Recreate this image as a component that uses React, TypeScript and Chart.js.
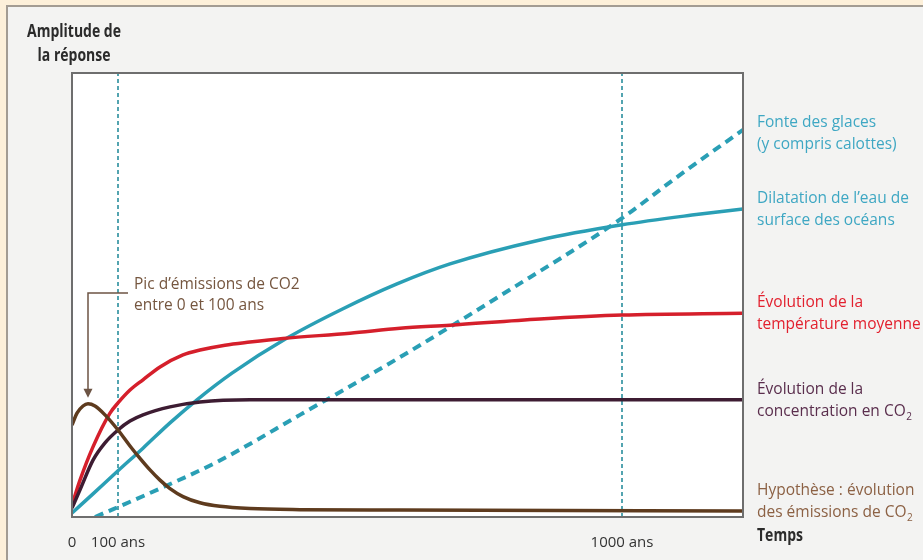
import React, { useEffect, useRef } from "react";
import { Chart, registerables } from "chart.js";

Chart.register(...registerables);

// ---- Data (schematic time units on x, response amplitude 0-100 on y) ----
const tickTimes = [0, 46, 550];
const tickLabels = ["0", "100 ans", "1000 ans"];
const markerTimes = [46, 550];

const emissionsT = [0, 5, 11, 16, 23, 33, 46, 58, 68, 78, 88, 98, 111, 128, 148, 178, 228, 328, 671];
const emissionsV = [20.7, 23.4, 25.0, 25.5, 25.0, 23.0, 19.6, 16.0, 13.2, 10.6, 8.3, 6.4, 4.6, 3.2, 2.4, 1.9, 1.65, 1.55, 1.35];

const concentrationT = [0, 8, 21, 33, 46, 58, 71, 98, 128, 178, 671];
const concentrationV = [2.0, 6.1, 12.8, 16.7, 19.6, 21.6, 23.0, 24.8, 25.9, 26.4, 26.4];

const temperatureT = [0, 8, 21, 38, 46, 58, 71, 88, 111, 128, 153, 178, 211, 278, 328, 378, 468, 550, 671];
const temperatureV = [2.7, 8.3, 15.8, 23.4, 25.7, 28.6, 30.9, 33.8, 36.5, 37.6, 38.7, 39.4, 40.2, 41.4, 42.5, 43.2, 44.6, 45.5, 45.9];

const dilatationT = [0, 21, 46, 71, 98, 125, 160, 215, 270, 325, 378, 468, 550, 620, 671];
const dilatationV = [0.9, 5.2, 10.4, 15.5, 21.2, 26.4, 32.4, 40.3, 46.8, 52.5, 57.0, 62.4, 65.8, 68.0, 69.4];

const glacesT = [23, 78, 145, 228, 328, 428, 550, 601, 671];
const glacesV = [0, 5.4, 12.4, 23.0, 36.0, 49.8, 67.3, 75.9, 87.2];

const W = 923;
const H = 560;

const TEAL = "#2a9fb5";
const RED = "#d51f2b";
const PURPLE = "#3d1c32";
const BROWN = "#5e3b1e";

const BODY_FONT = "'Open Sans', 'Noto Sans', sans-serif";
const BOLD_FONT = "'Open Sans', 'Noto Sans', sans-serif";

function toPts(t: number[], v: number[]) {
  return t.map((x, i) => ({ x, y: v[i] }));
}

function drawText(ctx: CanvasRenderingContext2D, text: string, x: number, y: number, sub?: string) {
  ctx.fillText(text, x, y);
  if (sub) {
    const w = ctx.measureText(text).width;
    const saved = ctx.font;
    ctx.font = `10px ${BODY_FONT}`;
    ctx.fillText(sub, x + w + 0.5, y + 4);
    ctx.font = saved;
  }
}

// condensed bold text (narrow heading style)
function drawCondensed(ctx: CanvasRenderingContext2D, text: string, x: number, y: number, sx: number, align: "left" | "center") {
  ctx.save();
  ctx.translate(x, y);
  ctx.scale(sx, 1);
  ctx.textAlign = align;
  ctx.fillText(text, 0, 0);
  ctx.restore();
}

const backgroundPlugin = {
  id: "background",
  beforeDraw(chart: any) {
    const { ctx, chartArea } = chart;
    ctx.save();
    ctx.fillStyle = "#fdf0da";
    ctx.fillRect(0, 0, W, H);
    ctx.fillStyle = "#f3f3f2";
    ctx.fillRect(7, 6, W + 20, H + 20);
    ctx.strokeStyle = "#a39c93";
    ctx.lineWidth = 2;
    ctx.strokeRect(7, 6, W + 20, H + 20);
    ctx.fillStyle = "#ffffff";
    ctx.fillRect(chartArea.left, chartArea.top, chartArea.right - chartArea.left, chartArea.bottom - chartArea.top);
    ctx.restore();
  },
};

const annotationPlugin = {
  id: "annotations",
  afterDraw(chart: any) {
    const { ctx, chartArea, scales } = chart;
    const L = chartArea.left;
    const T = chartArea.top;
    ctx.save();
    // plot frame
    ctx.strokeStyle = "#6e6e6e";
    ctx.lineWidth = 2;
    ctx.strokeRect(chartArea.left, chartArea.top, chartArea.right - chartArea.left, chartArea.bottom - chartArea.top);

    // titles (bold, narrow)
    ctx.fillStyle = "#2b2b2b";
    ctx.font = `bold 17px ${BOLD_FONT}`;
    ctx.textBaseline = "alphabetic";
    const natural = ctx.measureText("Amplitude de").width;
    const sx = natural > 0 ? 94 / natural : 1;
    drawCondensed(ctx, "Amplitude de", 74, 37, sx, "center");
    drawCondensed(ctx, "la réponse", 74, 61, sx, "center");
    drawCondensed(ctx, "Temps", chartArea.right + 14, 541, sx, "left");

    // right-hand labels
    ctx.textAlign = "left";
    const rx = chartArea.right + 14;
    ctx.font = `15.5px ${BODY_FONT}`;
    ctx.fillStyle = "#3ea7c3";
    drawText(ctx, "Fonte des glaces", rx, 127);
    drawText(ctx, "(y compris calottes)", rx, 149);
    drawText(ctx, "Dilatation de l’eau de", rx, 203);
    drawText(ctx, "surface des océans", rx, 225);
    ctx.fillStyle = "#e2202e";
    drawText(ctx, "Évolution de la", rx, 307);
    drawText(ctx, "température moyenne", rx, 329);
    ctx.fillStyle = "#5a2e4d";
    drawText(ctx, "Évolution de la", rx, 394);
    drawText(ctx, "concentration en CO", rx, 416, "2");
    ctx.fillStyle = "#8c6144";
    drawText(ctx, "Hypothèse : évolution", rx, 495);
    drawText(ctx, "des émissions de CO", rx, 517, "2");

    // peak annotation
    let peakIdx = 0;
    emissionsV.forEach((v, i) => {
      if (v > emissionsV[peakIdx]) peakIdx = i;
    });
    const px = scales.x.getPixelForValue(emissionsT[peakIdx]);
    const py = scales.y.getPixelForValue(emissionsV[peakIdx]);
    const lineY = T + 220;
    const tipY = py - 6;
    ctx.strokeStyle = "#6d5444";
    ctx.fillStyle = "#6d5444";
    ctx.lineWidth = 1.5;
    ctx.beginPath();
    ctx.moveTo(L + 56, lineY);
    ctx.lineTo(px, lineY);
    ctx.lineTo(px, tipY - 8);
    ctx.stroke();
    ctx.beginPath();
    ctx.moveTo(px, tipY);
    ctx.lineTo(px - 4.5, tipY - 9);
    ctx.lineTo(px + 4.5, tipY - 9);
    ctx.closePath();
    ctx.fill();
    ctx.fillStyle = "#75563f";
    ctx.font = `15.5px ${BODY_FONT}`;
    ctx.fillText("Pic d’émissions de CO2", L + 62, T + 216);
    ctx.fillText("entre 0 et 100 ans", L + 62, T + 237);
    ctx.restore();
  },
};

export default function App() {
  const ref = useRef<HTMLCanvasElement>(null);

  useEffect(() => {
    if (!ref.current) return;
    const curve = (label: string, t: number[], v: number[], color: string) => ({
      label,
      data: toPts(t, v),
      borderColor: color,
      backgroundColor: color,
      borderWidth: 3.5,
      pointRadius: 0,
      fill: false,
      cubicInterpolationMode: "monotone" as const,
    });
    const markers = markerTimes.map((t) => ({
      label: "repère " + tickLabels[tickTimes.indexOf(t)],
      data: [
        { x: t, y: 0 },
        { x: t, y: 100 },
      ],
      borderColor: "#1b8797",
      borderWidth: 1.5,
      borderDash: [4, 3],
      pointRadius: 0,
      fill: false,
    }));
    const chart = new Chart(ref.current, {
      type: "line",
      data: {
        datasets: [
          curve("Hypothèse : évolution des émissions de CO2", emissionsT, emissionsV, BROWN),
          curve("Évolution de la concentration en CO2", concentrationT, concentrationV, PURPLE),
          curve("Évolution de la température moyenne", temperatureT, temperatureV, RED),
          curve("Dilatation de l’eau de surface des océans", dilatationT, dilatationV, TEAL),
          {
            label: "Fonte des glaces (y compris calottes)",
            data: toPts(glacesT, glacesV),
            borderColor: TEAL,
            borderWidth: 4,
            borderDash: [9, 6],
            pointRadius: 0,
            fill: false,
            cubicInterpolationMode: "monotone",
          },
          ...markers,
        ] as any,
      },
      options: {
        responsive: false,
        animation: false,
        devicePixelRatio: 1,
        layout: { padding: { left: 72, top: 73, right: 180, bottom: 0 } },
        plugins: {
          legend: { display: false },
          tooltip: { enabled: false },
        },
        scales: {
          x: {
            type: "linear",
            min: 0,
            max: 671,
            afterBuildTicks: (scale: any) => {
              scale.ticks = tickTimes.map((v) => ({ value: v }));
            },
            afterFit: (scale: any) => {
              scale.height = 43;
            },
            ticks: {
              autoSkip: false,
              maxRotation: 0,
              padding: 17,
              color: "#333333",
              font: { family: BODY_FONT, size: 15 },
              callback: (_v: any, index: number) => tickLabels[index],
            },
            grid: { display: false, drawTicks: false },
            border: { display: false },
          },
          y: {
            display: false,
            min: 0,
            max: 100,
          },
        },
      } as any,
      plugins: [backgroundPlugin, annotationPlugin],
    });
    return () => chart.destroy();
  }, []);

  return (
    <div style={{ position: "absolute", left: 0, top: 0, width: W, height: H }}>
      <canvas ref={ref} width={W} height={H} style={{ display: "block", width: W, height: H }} />
    </div>
  );
}
